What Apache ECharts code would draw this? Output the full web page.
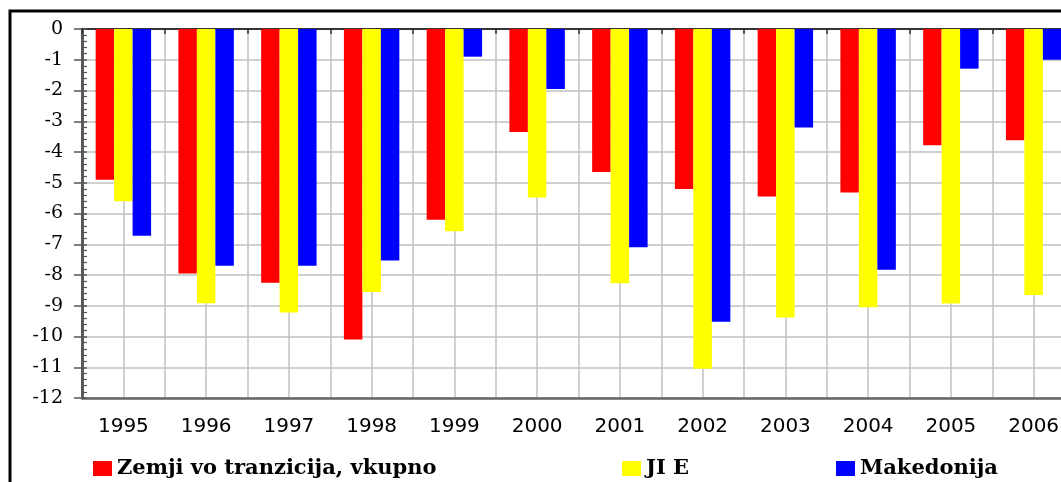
<!DOCTYPE html>
<html>
<head>
<meta charset="utf-8">
<script src="https://cdn.jsdelivr.net/npm/echarts@6/dist/echarts.min.js"></script>
<style>
html,body{margin:0;padding:0;background:#fff;}
#chart{width:1061px;height:482px;}
</style>
</head>
<body>
<div id="chart"></div>
<script>
var years = ['1995','1996','1997','1998','1999','2000','2001','2002','2003','2004','2005','2006'];
var seriesNames = ['Zemji vo tranzicija, vkupno', 'JI E', 'Makedonija'];
var tranzicija = [-4.9, -7.95, -8.25, -10.1, -6.2, -3.35, -4.65, -5.2, -5.45, -5.32, -3.78, -3.62];
var jie        = [-5.6, -8.92, -9.22, -8.55, -6.58, -5.48, -8.27, -11.05, -9.38, -9.05, -8.93, -8.65];
var makedonija = [-6.72, -7.7, -7.7, -7.53, -0.9, -1.95, -7.1, -9.52, -3.2, -7.83, -1.29, -1.0];
var colors = ['#ff0000', '#ffff00', '#0000ff'];

var chart = echarts.init(document.getElementById('chart'));
var seriesData = [tranzicija, jie, makedonija];
var series = seriesData.map(function (d, i) {
  return {
    name: seriesNames[i],
    type: 'bar',
    xAxisIndex: 0,
    yAxisIndex: 0,
    data: d,
    barGap: '0%',
    barCategoryGap: '33%',
    itemStyle: { color: colors[i] },
    animation: false
  };
});
var legendLefts = [93, 622, 836];
var legends = seriesNames.map(function (n, i) {
  return {
    data: [n],
    left: legendLefts[i],
    top: 458,
    padding: 0,
    icon: 'rect',
    itemWidth: 19,
    itemHeight: 15,
    itemGap: 8,
    textStyle: { fontFamily: 'DejaVu Serif', fontWeight: 'bold', fontSize: 21, color: '#000' },
    selectedMode: false
  };
});
chart.setOption({
  animation: false,
  backgroundColor: '#fff',
  grid: { left: 82, top: 29, width: 993, height: 369, containLabel: false, outerBoundsMode: 'none' },
  legend: legends,
  graphic: [{
    type: 'rect',
    shape: { x: 10, y: 11, width: 1200, height: 600 },
    style: { fill: 'none', stroke: '#000', lineWidth: 3 },
    silent: true,
    z: 100
  }],
  xAxis: [{
    type: 'category',
    data: years,
    position: 'bottom',
    axisLine: { onZero: false, lineStyle: { color: '#666', width: 2.5 } },
    axisTick: { show: false },
    axisLabel: { fontFamily: 'DejaVu Sans', fontSize: 20, color: '#000', margin: 19 },
    splitLine: { show: false }
  }, {
    type: 'category',
    data: years,
    position: 'top',
    axisLine: { onZero: false, lineStyle: { color: '#000', width: 1.5 } },
    axisTick: { show: true, inside: true, length: 5, lineStyle: { color: '#333', width: 1.5 } },
    axisLabel: { show: false },
    splitLine: { show: false }
  }, {
    type: 'value',
    min: 0,
    max: 24,
    interval: 1,
    show: true,
    axisLine: { show: false },
    axisTick: { show: false },
    axisLabel: { show: false },
    splitLine: { show: true, lineStyle: { color: '#c0c0c0', width: 1.5 } }
  }],
  yAxis: [{
    type: 'value',
    min: -12,
    max: 0,
    interval: 1,
    position: 'left',
    axisLine: { show: true, lineStyle: { color: '#555', width: 2.5 } },
    axisTick: { show: true, inside: false, length: 8, lineStyle: { color: '#555', width: 1.5 } },
    axisLabel: { fontFamily: 'DejaVu Serif', fontSize: 19, color: '#000', margin: 19 },
    splitLine: { show: true, lineStyle: { color: '#c0c0c0', width: 1.5 } }
  }, {
    type: 'value',
    min: -12,
    max: 0,
    interval: 1,
    position: 'left',
    offset: 0,
    axisLine: { show: true, lineStyle: { color: '#555', width: 2.5 } },
    axisTick: { show: true, inside: true, length: 5, lineStyle: { color: '#555', width: 1.5 } },
    minorTick: { show: true, splitNumber: 5, length: 5, lineStyle: { color: '#555', width: 1.2 } },
    axisLabel: { show: false },
    splitLine: { show: false }
  }],
  series: series
});
</script>
</body>
</html>
